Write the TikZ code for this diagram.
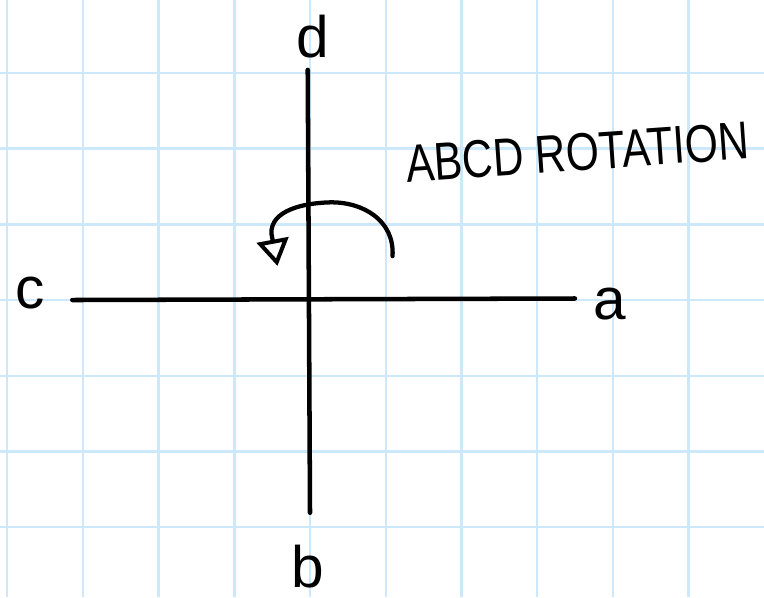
\documentclass[tikz,border=0pt]{standalone}
\usepackage{fontspec}
\usepackage{graphicx}
\setmainfont{Liberation Sans}
\usetikzlibrary{arrows.meta, calc}

\definecolor{gridblue}{RGB}{205,232,250}

\begin{document}
\begin{tikzpicture}[
    gridline/.style={draw=gridblue, line width=0.9pt},
    axisline/.style={line width=1.7pt, line cap=round},
    axislabel/.style={font=\fontsize{22}{26}\selectfont, inner sep=1pt},
    rotlabel/.style={font=\fontsize{20}{24}\selectfont, rotate=4},
    rotarrow/.style={line width=1.6pt, line cap=round,
        -{Triangle[open, length=10pt, width=12pt, line width=1.5pt]}}
  ]
  % paper size and squared background
  \useasboundingbox (-4.095, -3.924) rectangle (5.997, 3.963);
  \draw[gridline] (-4.095, -3.924) grid (5.997, 3.963);

  % ends of the two axes
  \coordinate (west) at (-3.14, 0.00);
  \coordinate (east) at (3.50, 0.02);
  \coordinate (north) at (-0.03, 3.04);
  \coordinate (south) at (0.00, -2.81);

  \draw[axisline] (west) -- (east);
  \draw[axisline] (north) -- (south);

  % axis labels
  \node[axislabel] (la) at (3.96, -0.05) {a};
  \node[axislabel] (lb) at (-0.03, -3.52) {b};
  \node[axislabel] (lc) at (-3.70, 0.09) {c};
  \node[axislabel] (ld) at (0.03, 3.48) {d};

  % rotation sense
  \coordinate (rotstart) at (1.09, 0.58);
  \coordinate (rottop) at (0.26, 1.29);
  \coordinate (rottip) at (-0.43, 0.45);
  \draw[rotarrow] (rotstart) .. controls (1.12, 1.05) and (0.70, 1.30) .. (rottop)
      .. controls (-0.10, 1.28) and (-0.52, 1.18) .. (-0.51, 0.88)
      -- (rottip);
  \node[rotlabel] (rot) at (3.53, 1.95) {\scalebox{0.8}[1]{ABCD ROTATION}};

\end{tikzpicture}
\end{document}
